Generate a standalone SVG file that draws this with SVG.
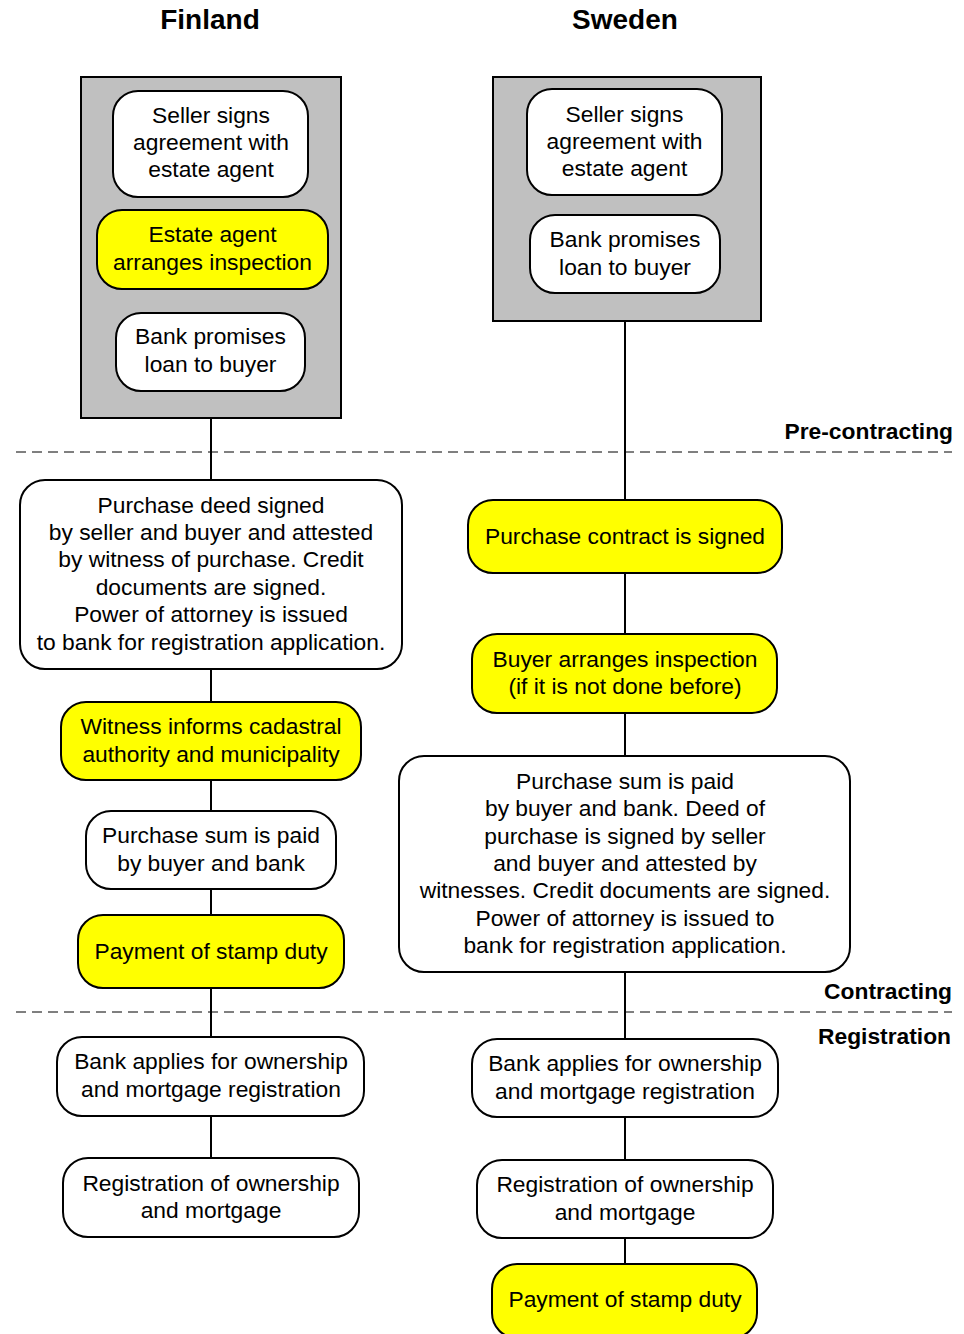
<svg xmlns="http://www.w3.org/2000/svg" width="964" height="1334" viewBox="0 0 964 1334">
<style>
text{font-family:"Liberation Sans",Arial,sans-serif;fill:#000}
.t{font-size:22.8px;text-anchor:middle;transform:translate(0px,-1px)}
.h{font-size:28px;font-weight:bold;text-anchor:middle}
.s{font-size:22.8px;font-weight:bold;text-anchor:end}
.n{fill:#fff;stroke:#000;stroke-width:2}
.y{fill:#ffff00;stroke:#000;stroke-width:2}
.g{fill:#c0c0c0;stroke:#000;stroke-width:2}
.c{stroke:#000;stroke-width:2;fill:none}
.d{stroke:#000;stroke-width:1;stroke-dasharray:10 6;fill:none}
</style>
<rect width="964" height="1334" fill="#fff"/>
<g id="titles">
<text class="h" x="210" y="29">Finland</text>
<text class="h" x="625" y="29">Sweden</text>
</g>
<g id="phases">
<line class="d" x1="16" y1="452" x2="952" y2="452"/>
<line class="d" x1="16" y1="1012" x2="952" y2="1012"/>
<text class="s" x="953" y="439">Pre-contracting</text>
<text class="s" x="952" y="999">Contracting</text>
<text class="s" x="951" y="1044">Registration</text>
</g>
<g id="connectors">
<line class="c" x1="211" y1="418" x2="211" y2="480"/>
<line class="c" x1="211" y1="669" x2="211" y2="702"/>
<line class="c" x1="211" y1="780" x2="211" y2="811"/>
<line class="c" x1="211" y1="889" x2="211" y2="915"/>
<line class="c" x1="211" y1="988" x2="211" y2="1037"/>
<line class="c" x1="211" y1="1116" x2="211" y2="1158"/>
<line class="c" x1="625" y1="321" x2="625" y2="500"/>
<line class="c" x1="625" y1="573" x2="625" y2="634"/>
<line class="c" x1="625" y1="713" x2="625" y2="756"/>
<line class="c" x1="625" y1="972" x2="625" y2="1039"/>
<line class="c" x1="625" y1="1117" x2="625" y2="1160"/>
<line class="c" x1="625" y1="1238" x2="625" y2="1264"/>
</g>
<g id="fi-pre">
<rect class="g" x="81" y="77" width="260" height="341"/>
</g>
<g id="fi-seller">
<rect class="n" x="113" y="91" width="195" height="106" rx="25"/>
<text class="t" x="211" y="123.6">Seller signs</text>
<text class="t" x="211" y="151">agreement with</text>
<text class="t" x="211" y="178.4">estate agent</text>
</g>
<g id="fi-agent">
<rect class="y" x="97" y="210" width="231" height="79" rx="25"/>
<text class="t" x="212.5" y="243.3">Estate agent</text>
<text class="t" x="212.5" y="270.7">arranges inspection</text>
</g>
<g id="fi-bank">
<rect class="n" x="116" y="313" width="189" height="78" rx="25"/>
<text class="t" x="210.5" y="345.3">Bank promises</text>
<text class="t" x="210.5" y="372.7">loan to buyer</text>
</g>
<g id="fi-deed">
<rect class="n" x="20" y="480" width="382" height="189" rx="25"/>
<text class="t" x="211" y="513.5">Purchase deed signed</text>
<text class="t" x="211" y="540.9">by seller and buyer and attested</text>
<text class="t" x="211" y="568.3">by witness of purchase. Credit</text>
<text class="t" x="211" y="595.7">documents are signed.</text>
<text class="t" x="211" y="623.1">Power of attorney is issued</text>
<text class="t" x="211" y="650.5">to bank for registration application.</text>
</g>
<g id="fi-witness">
<rect class="y" x="61" y="702" width="300" height="78" rx="25"/>
<text class="t" x="211" y="735.3">Witness informs cadastral</text>
<text class="t" x="211" y="762.7">authority and municipality</text>
</g>
<g id="fi-sum">
<rect class="n" x="86" y="811" width="250" height="78" rx="25"/>
<text class="t" x="211" y="844.3">Purchase sum is paid</text>
<text class="t" x="211" y="871.7">by buyer and bank</text>
</g>
<g id="fi-stamp">
<rect class="y" x="78" y="915" width="266" height="73" rx="25"/>
<text class="t" x="211" y="959.5">Payment of stamp duty</text>
</g>
<g id="fi-bankapp">
<rect class="n" x="57" y="1037" width="307" height="79" rx="25"/>
<text class="t" x="211" y="1070.3">Bank applies for ownership</text>
<text class="t" x="211" y="1097.7">and mortgage registration</text>
</g>
<g id="fi-reg">
<rect class="n" x="63" y="1158" width="296" height="79" rx="25"/>
<text class="t" x="211" y="1191.8">Registration of ownership</text>
<text class="t" x="211" y="1219.2">and mortgage</text>
</g>
<g id="se-pre">
<rect class="g" x="493" y="77" width="268" height="244"/>
</g>
<g id="se-seller">
<rect class="n" x="527" y="89" width="195" height="106" rx="25"/>
<text class="t" x="624.5" y="122.6">Seller signs</text>
<text class="t" x="624.5" y="150">agreement with</text>
<text class="t" x="624.5" y="177.4">estate agent</text>
</g>
<g id="se-bank">
<rect class="n" x="530" y="215" width="190" height="78" rx="25"/>
<text class="t" x="625" y="248.3">Bank promises</text>
<text class="t" x="625" y="275.7">loan to buyer</text>
</g>
<g id="se-contract">
<rect class="y" x="468" y="500" width="314" height="73" rx="25"/>
<text class="t" x="625" y="545">Purchase contract is signed</text>
</g>
<g id="se-buyer">
<rect class="y" x="472" y="634" width="305" height="79" rx="25"/>
<text class="t" x="625" y="667.8">Buyer arranges inspection</text>
<text class="t" x="625" y="695.2">(if it is not done before)</text>
</g>
<g id="se-paid">
<rect class="n" x="399" y="756" width="451" height="216" rx="25"/>
<text class="t" x="625" y="789.8">Purchase sum is paid</text>
<text class="t" x="625" y="817.2">by buyer and bank. Deed of</text>
<text class="t" x="625" y="844.6">purchase is signed by seller</text>
<text class="t" x="625" y="872">and buyer and attested by</text>
<text class="t" x="625" y="899.4">witnesses. Credit documents are signed.</text>
<text class="t" x="625" y="926.8">Power of attorney is issued to</text>
<text class="t" x="625" y="954.2">bank for registration application.</text>
</g>
<g id="se-bankapp">
<rect class="n" x="472" y="1039" width="306" height="78" rx="25"/>
<text class="t" x="625" y="1072.3">Bank applies for ownership</text>
<text class="t" x="625" y="1099.7">and mortgage registration</text>
</g>
<g id="se-reg">
<rect class="n" x="477" y="1160" width="296" height="78" rx="25"/>
<text class="t" x="625" y="1193.3">Registration of ownership</text>
<text class="t" x="625" y="1220.7">and mortgage</text>
</g>
<g id="se-stamp">
<rect class="y" x="492" y="1264" width="265" height="74" rx="25"/>
<text class="t" x="625" y="1308">Payment of stamp duty</text>
</g>
</svg>
